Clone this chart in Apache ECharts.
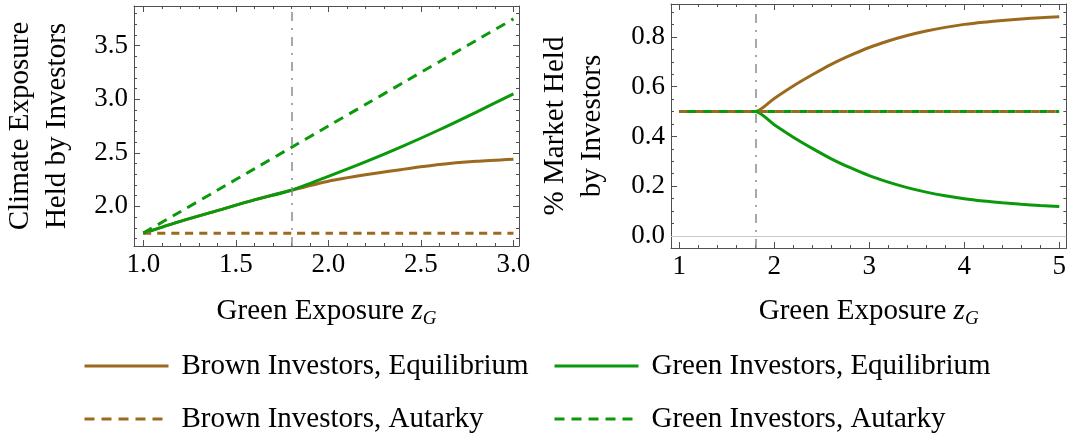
<!DOCTYPE html>
<html><head><meta charset="utf-8">
<script src="https://cdn.jsdelivr.net/npm/echarts@6/dist/echarts.min.js"></script>
<style>html,body{margin:0;padding:0;background:#fff}#c{width:1069px;height:436px}</style>
</head><body><div id="c"></div>
<script>
// ---- data ----
const cutoff = 1.8;
const seriesNames = ['Brown Investors, Equilibrium','Green Investors, Equilibrium','Brown Investors, Autarky','Green Investors, Autarky'];

const xLeft        = [1.0, 1.2, 1.4, 1.6, 1.8, 2.0, 2.2, 2.4, 2.6, 2.8, 3.0];
const brownEqLeft  = [1.75, 1.86, 1.96, 2.06, 2.15, 2.235, 2.295, 2.345, 2.39, 2.42, 2.44];
const greenEqLeft  = [1.75, 1.86, 1.96, 2.06, 2.15, 2.28, 2.415, 2.56, 2.715, 2.88, 3.05];
const brownAutLeft = [1.75, 1.75, 1.75, 1.75, 1.75, 1.75, 1.75, 1.75, 1.75, 1.75, 1.75];
const greenAutLeft = [1.75, 1.95, 2.15, 2.35, 2.55, 2.75, 2.95, 3.15, 3.35, 3.55, 3.75];

const xRight        = [1.0, 1.2, 1.4, 1.6, 1.8, 2.0, 2.2, 2.4, 2.6, 2.8, 3.0, 3.2, 3.4, 3.6, 3.8, 4.0, 4.2, 4.4, 4.6, 4.8, 5.0];
const brownEqRight  = [0.5, 0.5, 0.5, 0.5, 0.5, 0.553, 0.603, 0.648, 0.690, 0.726, 0.758, 0.784, 0.806, 0.824, 0.839, 0.851, 0.860, 0.867, 0.873, 0.878, 0.882];
const greenEqRight  = [0.5, 0.5, 0.5, 0.5, 0.5, 0.447, 0.397, 0.352, 0.310, 0.274, 0.242, 0.216, 0.194, 0.176, 0.161, 0.149, 0.140, 0.133, 0.127, 0.122, 0.118];
const brownAutRight = [0.5, 0.5, 0.5, 0.5, 0.5, 0.5, 0.5, 0.5, 0.5, 0.5, 0.5, 0.5, 0.5, 0.5, 0.5, 0.5, 0.5, 0.5, 0.5, 0.5, 0.5];
const greenAutRight = [0.5, 0.5, 0.5, 0.5, 0.5, 0.5, 0.5, 0.5, 0.5, 0.5, 0.5, 0.5, 0.5, 0.5, 0.5, 0.5, 0.5, 0.5, 0.5, 0.5, 0.5];

const leftXTicks  = [1.0, 1.5, 2.0, 2.5, 3.0];
const leftYTicks  = [2.0, 2.5, 3.0, 3.5];
const rightXTicks = [1, 2, 3, 4, 5];
const rightYTicks = [0.0, 0.2, 0.4, 0.6, 0.8];

// ---- style ----
const FONT = '"Liberation Serif", "Times New Roman", serif';
const BROWN = '#9b6a1e';
const GREEN = '#0a990a';
const FRAME = '#505050';

function minors(lo, hi, step, majors) {
  const out = [];
  const n = Math.round((hi - lo) / step);
  for (let i = 0; i <= n; i++) {
    const v = +(lo + i * step).toFixed(4);
    if (!majors.some(m => Math.abs(m - v) < 1e-6)) out.push(v);
  }
  return out;
}

const nameRich = {
  z: { fontFamily: FONT, fontSize: 29, fontStyle: 'italic', color: '#000' },
  sub: { fontFamily: FONT, fontSize: 19, fontStyle: 'italic', color: '#000', padding: [14, 0, 0, 0] }
};

function axisSet(dim, grid, min, max, majors, minorVals, fmt, name, nameGap) {
  const isX = dim === 'x';
  const base = { type: 'value', gridIndex: grid, min: min, max: max, splitLine: { show: false }, silent: true };
  const posA = isX ? 'bottom' : 'left';
  const posB = isX ? 'top' : 'right';
  const major = {
    ...base, position: posA,
    axisLine: { show: true, onZero: false, lineStyle: { color: FRAME, width: 1 } },
    axisTick: { show: true, inside: true, length: 6, customValues: majors, lineStyle: { color: FRAME, width: 1 } },
    axisLabel: { show: true, customValues: majors, formatter: fmt, color: '#000', fontFamily: FONT, fontSize: 27, margin: isX ? 5 : 6 },
    name: name, nameLocation: 'middle', nameGap: nameGap, nameMoveOverlap: false,
    nameTextStyle: { fontFamily: FONT, fontSize: 29, color: '#000', lineHeight: 37, rich: nameRich }
  };
  const minorA = {
    ...base, position: posA,
    axisLine: { show: false, onZero: false },
    axisTick: { show: true, inside: true, length: 3, customValues: minorVals, lineStyle: { color: FRAME, width: 1 } },
    axisLabel: { show: false }
  };
  const majorB = {
    ...base, position: posB,
    axisLine: { show: true, onZero: false, lineStyle: { color: FRAME, width: 1 } },
    axisTick: { show: true, inside: true, length: 6, customValues: majors, lineStyle: { color: FRAME, width: 1 } },
    axisLabel: { show: false }
  };
  const minorB = {
    ...base, position: posB,
    axisLine: { show: false, onZero: false },
    axisTick: { show: true, inside: true, length: 3, customValues: minorVals, lineStyle: { color: FRAME, width: 1 } },
    axisLabel: { show: false }
  };
  return [major, minorA, majorB, minorB];
}

const f1 = v => v.toFixed(1);
const f0 = v => v.toFixed(0);

const xAxes = [
  ...axisSet('x', 0, 0.95, 3.03, leftXTicks, minors(1.0, 3.0, 0.1, leftXTicks), f1, 'Green Exposure {z|z}{sub|G}', 47),
  ...axisSet('x', 1, 0.913, 5.075, rightXTicks, minors(1.0, 5.0, 0.2, rightXTicks), f0, 'Green Exposure {z|z}{sub|G}', 45)
];
const yAxes = [
  ...axisSet('y', 0, 1.63, 3.87, leftYTicks, minors(1.7, 3.8, 0.1, leftYTicks), f1, 'Climate Exposure\nHeld by Investors', 58),
  ...axisSet('y', 1, -0.049, 0.933, rightYTicks, minors(0.0, 0.9, 0.05, rightYTicks), f1, '% Market Held\nby Investors', 60)
];

function pairs(xs, ys) { return xs.map((x, i) => [x, ys[i]]); }

function line(name, grid, xs, ys, color, dash, offset, extra) {
  return Object.assign({
    type: 'line', name: name, xAxisIndex: grid * 4, yAxisIndex: grid * 4,
    data: pairs(xs, ys), showSymbol: false, symbol: 'none',
    smooth: 0.25,
    lineStyle: { color: color, width: 3, type: dash || 'solid', dashOffset: offset || 0 },
    itemStyle: { color: color },
    emphasis: { disabled: true }, silent: true, z: 3
  }, extra || {});
}

const vline = () => ({
  silent: true, symbol: ['none', 'none'], label: { show: false }, animation: false,
  lineStyle: { color: '#8c8c8c', width: 1.5, type: [9, 7, 2, 7] },
  emphasis: { disabled: true },
  data: [{ xAxis: cutoff }]
});

const series = [
  line(seriesNames[0], 0, xLeft, brownEqLeft, BROWN, null, 0, { markLine: vline() }),
  line(seriesNames[1], 0, xLeft, greenEqLeft, GREEN),
  line(seriesNames[2], 0, xLeft, brownAutLeft, BROWN, [8, 6], 0),
  line(seriesNames[3], 0, xLeft, greenAutLeft, GREEN, [10, 7], 0),
  line(seriesNames[0], 1, xRight, brownEqRight, BROWN, null, 0, { markLine: vline() }),
  line(seriesNames[1], 1, xRight, greenEqRight, GREEN, null, 0, {
    markLine: {
      silent: true, symbol: ['none', 'none'], label: { show: false }, animation: false,
      lineStyle: { color: '#c8c8c8', width: 1, type: 'solid' }, emphasis: { disabled: true },
      data: [{ yAxis: 0 }]
    }
  }),
  line(seriesNames[2], 1, xRight, brownAutRight, BROWN, [8, 8], 0, { z: 4 }),
  line(seriesNames[3], 1, xRight, greenAutRight, GREEN, [8, 8], 8, { z: 5 })
];

const legendText = { fontFamily: FONT, fontSize: 29, color: '#000', lineHeight: 30, padding: [0, 0, 0, 8] };
function legendAt(name, left, top, dash) {
  return {
    data: [name], left: left, top: top, padding: 0, itemWidth: 84, itemHeight: 14,
    textStyle: legendText, selectedMode: false,
    itemStyle: { opacity: 0 },
    lineStyle: { width: 3, type: dash || 'solid' }
  };
}

const option = {
  animation: false,
  backgroundColor: '#fff',
  grid: [
    { left: 134, top: 6, width: 385, height: 240 },
    { left: 671, top: 4, width: 397, height: 244 }
  ],
  xAxis: xAxes,
  yAxis: yAxes,
  legend: [
    legendAt(seriesNames[0], 83, 351),
    legendAt(seriesNames[2], 83, 404, [10, 7]),
    legendAt(seriesNames[1], 553, 351),
    legendAt(seriesNames[3], 553, 404, [10, 7])
  ],
  series: series
};

const chart = echarts.init(document.getElementById('c'), null, { renderer: 'canvas' });
chart.setOption(option);
</script>
</body></html>
